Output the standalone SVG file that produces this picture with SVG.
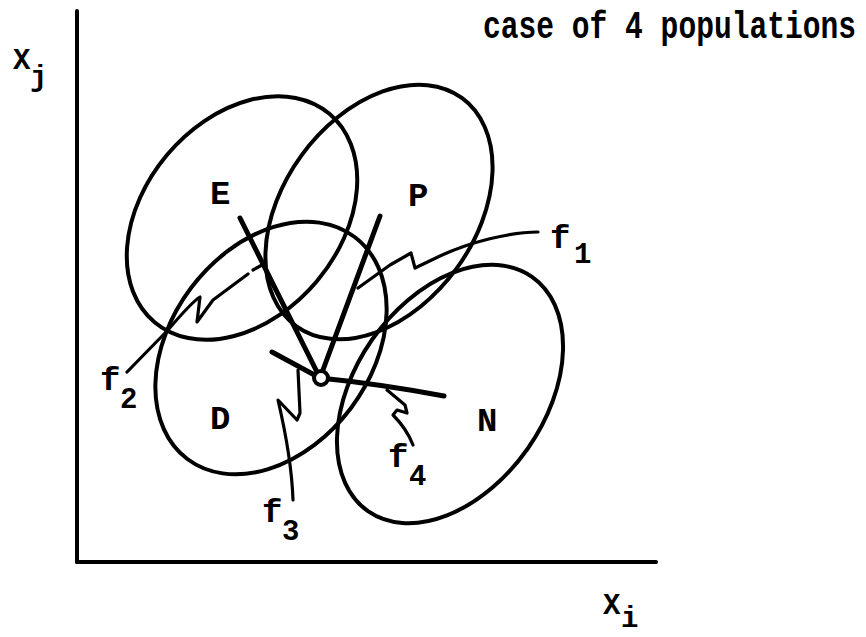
<svg xmlns="http://www.w3.org/2000/svg" width="866" height="637" viewBox="0 0 866 637">
<style>
.ax{stroke:#000;stroke-width:4;fill:none;stroke-linecap:round}
.el{stroke:#000;stroke-width:4;fill:none}
.ln{stroke:#000;stroke-width:5;fill:none;stroke-linecap:round}
.wg{stroke:#000;stroke-width:3.2;fill:none;stroke-linecap:round;stroke-linejoin:round}
text{font-family:"Liberation Mono","Courier New",monospace;font-weight:bold;fill:#000}
.lb{font-size:34px}
.fl{font-size:34px}
.sb{font-size:29px}
</style>
<rect width="866" height="637" fill="#fff"/>
<g id="axes">
<line class="ax" x1="77" y1="11" x2="77" y2="562"/>
<line class="ax" x1="77" y1="562" x2="656" y2="562"/>
<text class="sb" x="13" y="69">X</text><text class="sb" x="30" y="86">j</text>
<text class="sb" x="603" y="614">X</text><text class="sb" x="621" y="627" font-size="27">i</text>
<text transform="translate(483 38) scale(1 1.3)" font-size="30" textLength="373" lengthAdjust="spacingAndGlyphs">case of 4 populations</text>
</g>
<g id="E"><ellipse class="el" cx="242" cy="218" rx="136" ry="98" transform="rotate(-50 242 218)"/><text class="lb" x="210" y="204">E</text></g>
<g id="P"><ellipse class="el" cx="379" cy="212" rx="141" ry="96" transform="rotate(-54 379 212)"/><text class="lb" x="408" y="206">P</text></g>
<g id="D"><ellipse class="el" cx="271" cy="348" rx="139" ry="100" transform="rotate(-53 271 348)"/><text class="lb" x="210" y="429">D</text></g>
<g id="N"><ellipse class="el" cx="450" cy="394" rx="143" ry="95" transform="rotate(-55 450 394)"/><text class="lb" x="477" y="431">N</text></g>
<g id="connectors">
<line class="ln" x1="320" y1="378" x2="240" y2="218"/>
<line class="ln" x1="320" y1="378" x2="380" y2="216"/>
<line class="ln" x1="320" y1="378" x2="272" y2="352"/>
<path class="ln" d="M320 378 Q380 384 444 396"/>
<circle cx="321" cy="378" r="7" fill="#fff" stroke="#000" stroke-width="4"/>
<path class="wg" d="M538 232 C510 232 470 242 440 256 L415 268 L411 253 L390 265 L358 288"/>
<path class="wg" d="M127 372 L168 330 C185 310 195 300 200 297 L197 322 L213 300 L248 274 M253 270 L262 265"/>
<path class="wg" d="M293 500 C292 470 285 430 278 400 L297 420 L300 413 L298 370"/>
<path class="wg" d="M413 445 C408 432 398 420 393 415 L397 410 L407 413 L405 405 L387 390"/>
</g>
<g id="flabels">
<text class="fl" x="550" y="248">f</text><text class="sb" x="574" y="263">1</text>
<text class="fl" x="100" y="390">f</text><text class="sb" x="120" y="408">2</text>
<text class="fl" x="262" y="522">f</text><text class="sb" x="282" y="540">3</text>
<text class="fl" x="388" y="467">f</text><text class="sb" x="409" y="485">4</text>
</g>
</svg>
